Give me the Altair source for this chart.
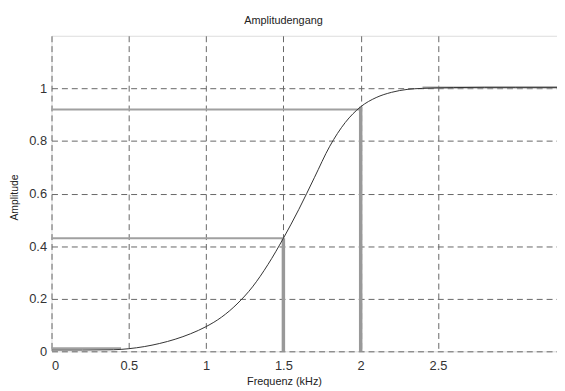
import altair as alt
import pandas as pd

# Frequency response curve
freq_khz = [0.0, 0.2, 0.4, 0.5, 0.6, 0.7, 0.8, 0.9, 1.0, 1.1, 1.2, 1.3, 1.4,
            1.5, 1.6, 1.7, 1.8, 1.9, 2.0, 2.1, 2.2, 2.3, 2.4, 2.6, 2.8, 3.0, 3.27]
amplitude = [0.005, 0.005, 0.006, 0.01, 0.018, 0.03, 0.046, 0.067, 0.094, 0.13,
             0.18, 0.245, 0.33, 0.43, 0.54, 0.66, 0.78, 0.87, 0.93, 0.965,
             0.985, 0.996, 1.0, 1.003, 1.004, 1.004, 1.004]

# Marker lines (horizontal)
h_x = [0.0, 0.0, 0.0, 2.4]
h_x2 = [1.5, 2.0, 0.45, 3.27]
h_y = [0.43, 0.92, 0.012, 1.003]

# Marker lines (vertical)
v_x = [1.5, 2.0]
v_y = [0.0, 0.0]
v_y2 = [0.43, 0.93]

x_ticks = [0, 0.5, 1, 1.5, 2, 2.5]
y_ticks = [0, 0.2, 0.4, 0.6, 0.8, 1.0]

FONT = "Liberation Sans"

curve = pd.DataFrame({"f": freq_khz, "a": amplitude})
hdf = pd.DataFrame({"x": h_x, "x2": h_x2, "y": h_y})
vdf = pd.DataFrame({"x": v_x, "y": v_y, "y2": v_y2})

xscale = alt.Scale(domain=[0, 3.27], nice=False, zero=False)
yscale = alt.Scale(domain=[0, 1.2], nice=False)

xaxis = alt.Axis(values=x_ticks, format="~g", title="Frequenz (kHz)",
                 grid=True, gridDash=[6, 4], gridColor="#666", gridOpacity=1,
                 ticks=False, domain=False, labelPadding=8,
                 labelFontSize=13, labelColor="#333", labelFont=FONT,
                 titleFont=FONT, titleFontSize=11, titleFontWeight="normal",
                 titleColor="#222", titleX=235, titleY=25,
                 titleBaseline="top", titleAlign="center")
yaxis = alt.Axis(values=y_ticks, format="~g", title="Amplitude",
                 grid=True, gridDash=[6, 4], gridColor="#666", gridOpacity=1,
                 ticks=False, domain=False, labelPadding=5,
                 labelFontSize=13, labelColor="#333", labelFont=FONT,
                 titleFont=FONT, titleFontSize=10.5, titleFontWeight="normal",
                 titleColor="#222", titleX=-37, titleY=163, titleAngle=-90,
                 titleBaseline="middle", titleAlign="center")

line = alt.Chart(curve).mark_line(color="#333", strokeWidth=1,
                                  interpolate="monotone").encode(
    x=alt.X("f:Q", scale=xscale, axis=xaxis),
    y=alt.Y("a:Q", scale=yscale, axis=yaxis),
)

hrules = alt.Chart(hdf).mark_rule(color="#a0a0a0", strokeWidth=2).encode(
    x=alt.X("x:Q", scale=xscale), x2="x2:Q",
    y=alt.Y("y:Q", scale=yscale),
)

vrules = alt.Chart(vdf).mark_rule(color="#999", strokeWidth=3.5).encode(
    x=alt.X("x:Q", scale=xscale),
    y=alt.Y("y:Q", scale=yscale), y2="y2:Q",
)

chart = alt.layer(hrules, vrules, line).properties(
    width=511, height=319,
    title=alt.TitleParams("Amplitudengang", font=FONT, fontSize=11,
                          fontWeight="normal", color="#222", dx=-21, offset=10),
    autosize=alt.AutoSizeParams(type="none"),
    padding={"left": 44, "top": 26, "right": 0, "bottom": 36},
).configure_view(stroke="#777", strokeWidth=1.5).configure(background="white")

chart.save("out.html", embed_options={"renderer": "svg", "actions": False})
